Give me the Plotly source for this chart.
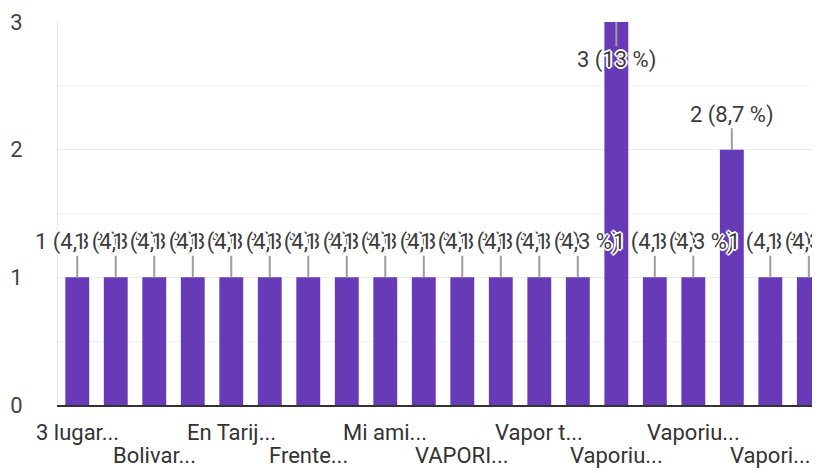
import plotly.graph_objects as go

# answers per option (23 responses in total)
values = [1, 1, 1, 1, 1, 1, 1, 1, 1, 1, 1, 1, 1, 1, 3, 1, 1, 2, 1, 1]
positions = list(range(len(values)))

# truncated option names, shown under every second bar
tick_positions = [0, 2, 4, 6, 8, 10, 12, 14, 16, 18]
tick_labels = ["3 lugar...", "Bolivar...", "En Tarij...", "Frente...", "Mi ami...",
               "VAPORI...", "Vapor t...", "Vaporiu...", "Vaporiu...", "Vapori..."]

total = sum(values)
purple = "#673ab7"
halo = ("white 1px 1px 0px, white -1px -1px 0px, white 1px -1px 0px, white -1px 1px 0px, "
        "white 2px 0px 0px, white -2px 0px 0px, white 0px 2px 0px, white 0px -2px 0px")

fig = go.Figure()

fig.add_trace(go.Bar(
    x=positions,
    y=values,
    marker=dict(color=purple, line=dict(width=0)),
    hoverinfo="skip"
))

# value labels with a grey stem, drawn one after another so they overlap
annotations = []
for x, v in zip(positions, values):
    pct = round(v / total * 100, 1)
    pct_txt = ("%g" % pct).replace(".", ",")
    annotations.append(dict(
        x=x, y=v, xref="x", yref="y",
        text="%d (%s %%)" % (v, pct_txt),
        showarrow=True, arrowhead=0, arrowwidth=2, arrowcolor="#9e9e9e",
        ax=0, ay=38 if v == 3 else -35,
        font=dict(family="Roboto", size=22, color="#3c3c3c", shadow=halo),
        borderpad=0
    ))

# two rows of category labels
for i, (x, label) in enumerate(zip(tick_positions, tick_labels)):
    annotations.append(dict(
        x=x, y=0, xref="x", yref="paper",
        text=label, showarrow=False,
        yanchor="middle", yshift=-27 if i % 2 == 0 else -50,
        font=dict(family="Roboto", size=22, color="#333333")
    ))

# the page body adds 8px, so margins are 8px smaller than the target positions
fig.update_layout(
    width=820, height=473,
    margin=dict(l=50, r=8, t=14, b=76),
    plot_bgcolor="white", paper_bgcolor="white",
    showlegend=False,
    bargap=0.38,
    annotations=annotations,
    xaxis=dict(
        range=[-0.5, 19.29], automargin=False,
        showticklabels=False, showgrid=False, zeroline=False,
        showline=True, linecolor="#333333", linewidth=2
    ),
    yaxis=dict(
        range=[0, 3], dtick=1, automargin=False,
        gridcolor="#ececec", gridwidth=1,
        minor=dict(dtick=0.5, showgrid=True, gridcolor="#f2f2f2"),
        zeroline=False,
        showline=True, linecolor="#e6e6e6", linewidth=1,
        ticks="", ticklabelstandoff=30,
        tickfont=dict(family="Roboto", size=22, color="#444444")
    )
)

fig.write_html("out.html")
